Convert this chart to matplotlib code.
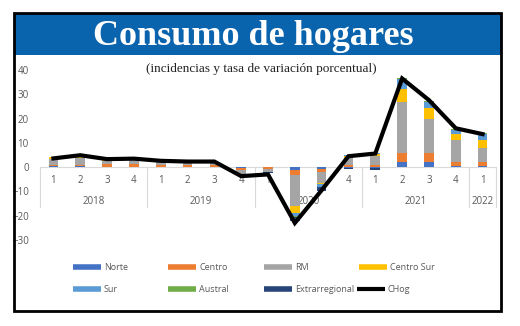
import numpy as np
import matplotlib.pyplot as plt
from matplotlib.lines import Line2D
from matplotlib.patches import Rectangle

# ——— DATA ———
quarters = ["1", "2", "3", "4", "1", "2", "3", "4", "1", "2", "3", "4",
            "1", "2", "3", "4", "1"]
years    = ["2018", "2019", "2020", "2021", "2022"]
year_len = [4, 4, 4, 4, 1]

norte   = [0.4, 0.3, 0.1, 0.1, 0.2, 0.1, 0.1, -0.3, 0.0, -1.2, -0.8, -0.3, -0.4, 2.0, 2.0, 0.5, 0.5]
centro  = [0.3, 0.5, 1.0, 1.0, 0.6, 0.8, 0.7, -0.8, -0.6, -2.0, -1.2, 1.0, 0.8, 4.0, 4.0, 1.5, 1.5]
rm      = [2.5, 3.0, 1.5, 1.8, 1.6, 0.8, 1.0, -1.8, -1.3, -13.0, -4.5, 2.6, 3.8, 20.7, 13.7, 9.0, 6.0]
csur    = [0.8, 0.3, 0.2, 0.1, 0.1, 0.3, 0.1, 0.0, 0.0, -2.5, -0.4, 1.0, 1.0, 5.6, 4.5, 2.5, 3.2]
sur     = [0.2, 0.1, 0.0, 0.0, 0.0, 0.0, 0.0, 0.0, 0.0, -1.6, -1.2, 0.2, 0.2, 4.0, 2.7, 2.0, 2.5]
austral = [0.1, 0.1, 0.0, 0.0, 0.0, 0.0, 0.0, 0.0, 0.0, -0.2, -0.1, 0.1, 0.1, 0.3, 0.3, 0.2, 0.2]
extra   = [0.0, 0.0, 0.0, 0.0, 0.0, 0.0, 0.0, 0.0, -0.5, -1.6, -1.6, -0.5, -0.6, 0.0, 0.0, 0.0, 0.0]
chog    = [3.6, 4.9, 3.3, 3.5, 2.6, 2.3, 2.3, -3.7, -3.0, -23.0, -9.5, 4.5, 5.6, 36.5, 27.6, 16.0, 13.6]

series_names  = ["Norte", "Centro", "RM", "Centro Sur", "Sur", "Austral", "Extrarregional"]
series_values = [norte, centro, rm, csur, sur, austral, extra]
series_colors = ["#4472C4", "#ED7D31", "#A5A5A5", "#FFC000", "#5B9BD5", "#70AD47", "#264478"]

W, H = 520, 326
FONT = "Open Sans"
GRAY = "#595959"

def fx(px):
    return px / W

def fy(py):
    return 1 - py / H

fig = plt.figure(figsize=(W / 100, H / 100), dpi=100)
fig.patch.set_facecolor("white")

# outer frame and title band
fig.add_artist(Rectangle((fx(14), fy(55)), fx(501) - fx(14), fy(13) - fy(55),
                         transform=fig.transFigure, facecolor="#0A64AD",
                         edgecolor="none", zorder=0))
fig.add_artist(Rectangle((fx(14), fy(311)), fx(501) - fx(14), fy(13) - fy(311),
                         transform=fig.transFigure, facecolor="none",
                         edgecolor="black", lw=2, zorder=5))
fig.text(fx(253), fy(45), "Consumo de hogares", color="white",
         family="Liberation Serif", weight="bold", fontsize=26,
         ha="center", va="baseline")
fig.text(fx(261), fy(72), "(incidencias y tasa de variación porcentual)",
         color="#222222", family="Liberation Serif", fontsize=9.5,
         ha="center", va="baseline")

# ——— AXES ———
ax = fig.add_axes([fx(40), fy(240), fx(496) - fx(40), fy(70) - fy(240)])
x = np.arange(len(quarters))
ax.set_xlim(-0.5, len(quarters) - 0.5)
ax.set_ylim(-30, 40)
for s in ax.spines.values():
    s.set_visible(False)
ax.set_xticks([])
ax.set_yticks(np.arange(-30, 41, 10))
ax.tick_params(axis="y", length=0, pad=8, labelsize=7, labelcolor=GRAY)
for lab in ax.get_yticklabels():
    lab.set_family(FONT)

# stacked bars, positives up and negatives down
pos_base = np.zeros(len(x))
neg_base = np.zeros(len(x))
for name, vals, col in zip(series_names, series_values, series_colors):
    v = np.array(vals)
    p = np.where(v > 0, v, 0)
    n = np.where(v < 0, v, 0)
    ax.bar(x, p, 0.36, bottom=pos_base, color=col, zorder=2)
    ax.bar(x, n, 0.36, bottom=neg_base, color=col, zorder=2)
    pos_base += p
    neg_base += n

ax.plot(x, chog, color="black", lw=3, zorder=3, solid_joinstyle="miter")

# category axis (two levels)
ax.axhline(0, color="#D9D9D9", lw=0.8, zorder=1)
for i, q in enumerate(quarters):
    ax.text(i, -5.6, q, ha="center", va="center", fontsize=7,
            color=GRAY, family=FONT, zorder=0.5)
start = 0
edges = [-0.5]
for yr, n in zip(years, year_len):
    ax.text(start + (n - 1) / 2, -14.3, yr, ha="center", va="center",
            fontsize=7, color=GRAY, family=FONT, zorder=0.5)
    start += n
    edges.append(start - 0.5)
for e in edges:
    ax.plot([e, e], [0, -16.5], color="#D9D9D9", lw=0.8, zorder=1,
            clip_on=False)

# ——— LEGEND ———
legend_pos = [(73, 267), (168, 267), (264, 267), (359, 267),
              (73, 289), (168, 289), (264, 289), (357, 289)]
entries = list(zip(series_names, series_colors)) + [("CHog", "black")]
for (name, col), (px, py) in zip(entries, legend_pos):
    lw = 3 if name == "CHog" else 4
    fig.add_artist(Line2D([fx(px), fx(px + 28)], [fy(py), fy(py)],
                          transform=fig.transFigure, color=col, lw=lw,
                          solid_capstyle="butt"))
    fig.text(fx(px + 31), fy(py), name, ha="left", va="center",
             fontsize=6.5, color=GRAY, family=FONT)

fig.savefig("out.png", dpi=100)
